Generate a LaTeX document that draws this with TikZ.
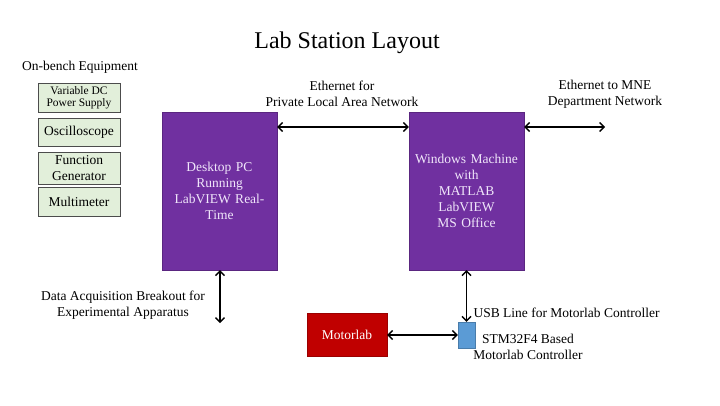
\documentclass[tikz,border=0pt]{standalone}
\usepackage{fontspec}
\setmainfont{Liberation Serif}
\usetikzlibrary{arrows.meta}
\definecolor{eqgreen}{HTML}{E2EFDA}
\definecolor{pcpurple}{HTML}{7030A0}
\definecolor{mlred}{HTML}{C00000}
\definecolor{stmblue}{HTML}{5B9BD5}
\definecolor{lavtext}{HTML}{F0E6FA}
\begin{document}
\begin{tikzpicture}[x=1pt,y=-1pt,
  eqbox/.style={draw=black!70, line width=0.6pt, fill=eqgreen, minimum width=82pt, align=center, inner sep=1pt, font=\fontsize{13.5}{14}\selectfont},
  pcbox/.style={draw=pcpurple!80!black, fill=pcpurple, minimum width=113pt, minimum height=158pt, text width=108pt, align=center, text=lavtext, font=\fontsize{13.5}{16}\selectfont},
  lbl/.style={align=center, font=\fontsize{13.5}{16}\selectfont},
  conn/.style={line width=1.4pt, {Straight Barb[length=4.5pt,width=9pt]}-{Straight Barb[length=4.5pt,width=9pt]}}
]
\useasboundingbox (0,0) rectangle (720,405);
\node[font=\fontsize{24}{26}\selectfont] (title) at (347,43) {Lab Station Layout};
\node[lbl] (bench) at (80,67) {On-bench Equipment};
\node[eqbox, minimum height=29pt, font=\fontsize{11.5}{12.5}\selectfont] (psu) at (79,97.5) {Variable DC\\Power Supply};
\node[eqbox, minimum height=28pt] (osc) at (79,132) {Oscilloscope};
\node[eqbox, minimum height=32pt, font=\fontsize{13.5}{15.5}\selectfont] (fgen) at (79,168) {Function\\Generator};
\node[eqbox, minimum height=29pt] (mm) at (79,201.5) {Multimeter};

\node[pcbox] (pc) at (219.5,191) {Desktop PC\\Running\\LabVIEW Real-\\Time};
\node[pcbox] (win) at (466.5,191) {Windows Machine\\with\\MATLAB\\LabVIEW\\MS Office};

\node[lbl] (eth1) at (342,94) {Ethernet for\\Private Local Area Network};
\node[lbl] (eth2) at (605,94) {Ethernet to MNE\\Department Network};
\coordinate (netend) at (605,127);
\draw[conn] (pc.east |- 0,127) -- (win.west |- 0,127);
\draw[conn] (win.east |- 0,127) -- (netend);

\coordinate (daqend) at (220,323);
\draw[conn] (pc.south -| daqend) -- (daqend);
\node[lbl] (daq) at (123,305) {Data Acquisition Breakout for\\Experimental Apparatus};

\node[draw=stmblue!80!black, fill=stmblue, minimum width=17pt, minimum height=26pt, inner sep=0pt] (stm) at (466.5,335) {};
\draw[conn] (win.south) -- (stm.north);
\node[lbl, anchor=west] (usb) at (470,313) {USB Line for Motorlab Controller};
\node[lbl] (stmlbl) at (528,347) {STM32F4 Based\\Motorlab Controller};

\node[draw=mlred!80!black, fill=mlred, minimum width=80pt, minimum height=43pt, text=white, font=\fontsize{13.5}{15}\selectfont] (ml) at (347,335) {Motorlab};
\draw[conn] (ml.east) -- (stm.west);
\end{tikzpicture}
\end{document}
